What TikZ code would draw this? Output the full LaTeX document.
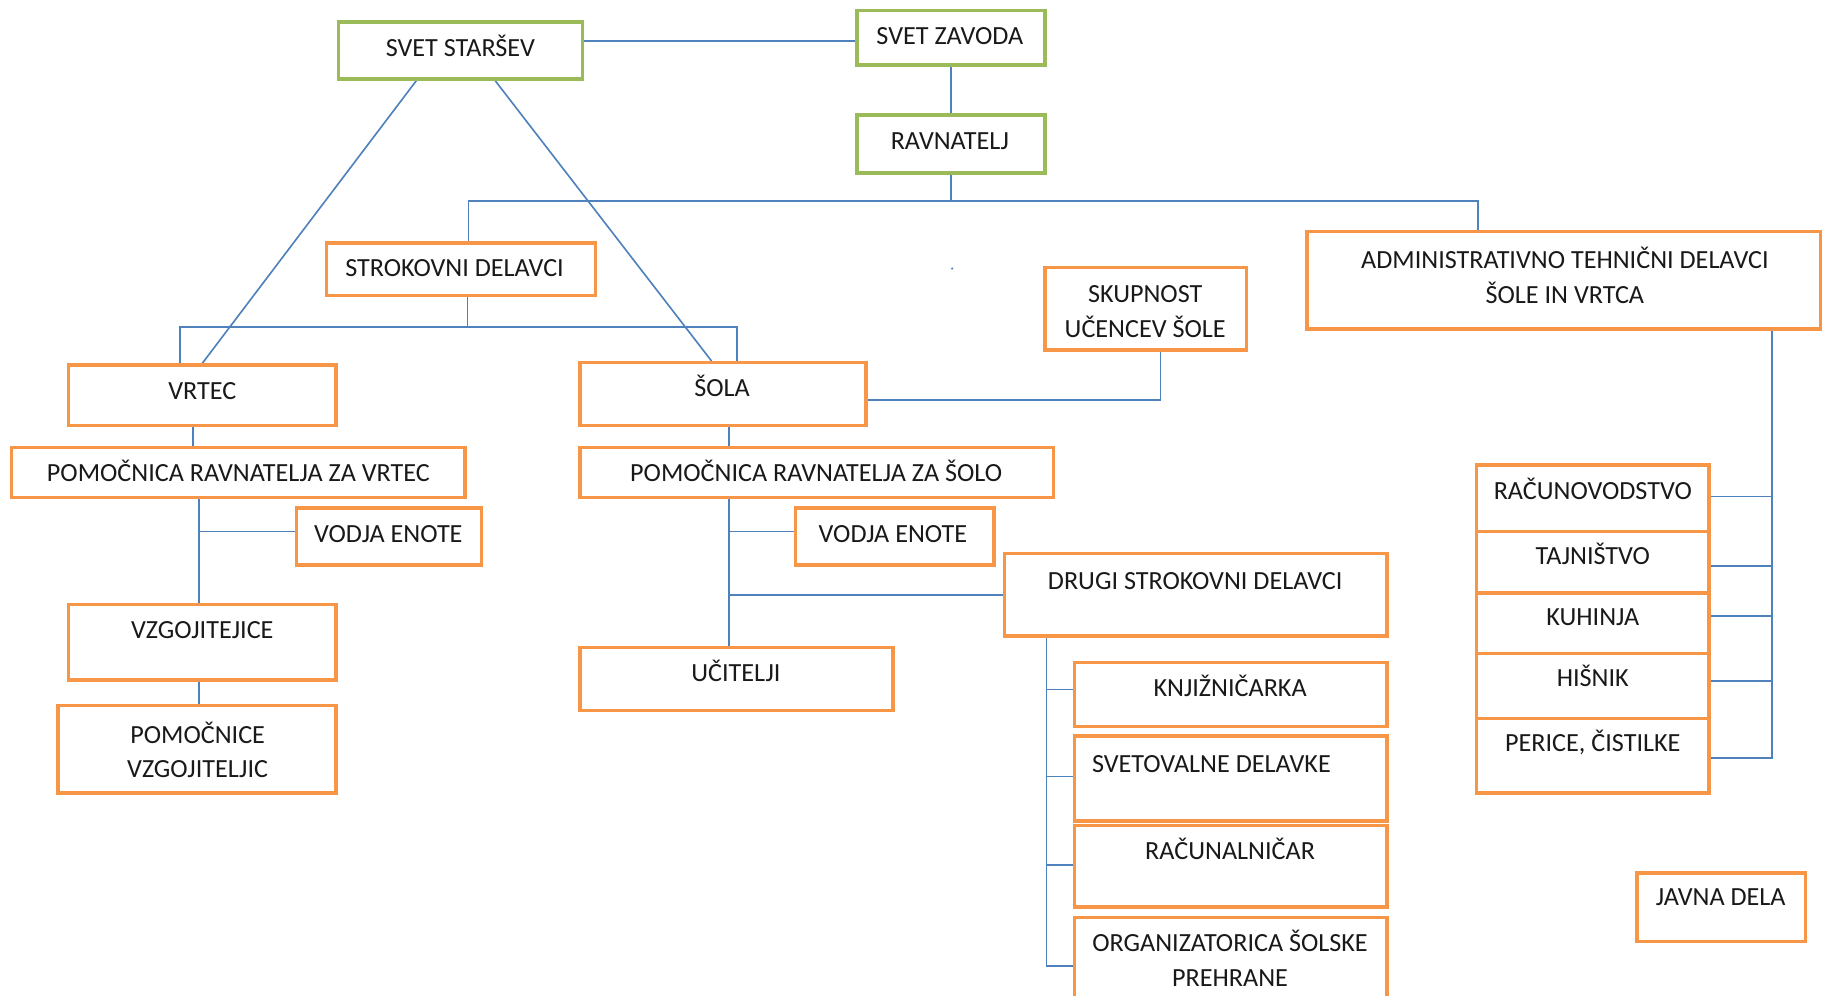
\documentclass[tikz,border=0pt]{standalone}
\usepackage{fontspec}
\setmainfont{Carlito}
\usetikzlibrary{calc}
\pgfdeclarelayer{bg}
\pgfsetlayers{bg,main}
\definecolor{orng}{HTML}{F79646}
\definecolor{grn}{HTML}{9BBB59}
\definecolor{blu}{HTML}{4F81BD}
\tikzset{
 obox/.style={draw=orng, line width=3pt, fill=white, inner sep=0pt},
 gbox/.style={draw=grn, line width=3pt, fill=white, inner sep=0pt},
 conn/.style={draw=blu, line width=1.4pt},
 lbl/.style={font=\fontsize{22.5}{30}\selectfont, text=black!90, inner sep=0pt, text height=14.4pt, text depth=0pt},
 lbltwo/.style={font=\fontsize{22.5}{30}\selectfont, text=black!90, inner sep=0pt, align=center},
}
\newcommand\mkbx[6]{\node[#1, minimum width={#5-#3}, minimum height={#6-#4}] (#2) at ({(#3+#5)/2},{(#4+#6)/2}) {};}
\begin{document}
\begin{tikzpicture}[x=1pt,y=-1pt]
\useasboundingbox (0,0) rectangle (1568,856);
% boxes
\mkbx{gbox}{svs}{291}{19}{501}{68}
\mkbx{gbox}{svz}{737}{9}{899}{56}
\mkbx{gbox}{rav}{737}{99}{899}{149}
\mkbx{obox}{strok}{281}{209}{512}{254}
\mkbx{obox}{skup}{899}{230}{1072}{301}
\mkbx{obox}{adm}{1124}{199}{1566}{283}
\mkbx{obox}{vrtec}{59}{314}{289}{366}
\mkbx{obox}{sola}{499}{312}{745}{366}
\mkbx{obox}{pomv}{10}{385}{400}{428}
\mkbx{obox}{poms}{499}{385}{906}{428}
\mkbx{obox}{vodl}{255}{437}{414}{486}
\mkbx{obox}{vodr}{684}{437}{855}{486}
\mkbx{obox}{vzg}{59}{520}{289}{585}
\mkbx{obox}{pomvz}{50}{607}{289}{682}
\mkbx{obox}{uci}{499}{557}{768}{611}
\mkbx{obox}{drugi}{864}{476}{1193}{547}
\mkbx{obox}{knj}{924}{570}{1193}{625}
\mkbx{obox}{svet}{924}{633}{1193}{706}
\mkbx{obox}{racu}{924}{710}{1193}{780}
\mkbx{obox}{org}{924}{789}{1193}{880}
\mkbx{obox}{racn}{1270}{400}{1470}{457}
\mkbx{obox}{taj}{1270}{457}{1470}{510}
\mkbx{obox}{kuh}{1270}{510}{1470}{562}
\mkbx{obox}{his}{1270}{562}{1470}{618}
\mkbx{obox}{per}{1270}{618}{1470}{682}
\mkbx{obox}{javna}{1408}{751}{1553}{810}
% texts
\node[lbl] (svs-t) at (396,41) {SVET STARŠEV};
\node[lbl] (svz-t) at (817,31) {SVET ZAVODA};
\node[lbl] (rav-t) at (817,121) {RAVNATELJ};
\node[lbl] (strok-t) at (391,231) {STROKOVNI DELAVCI};
\node[lbltwo] (skup-t) at (985,268) {SKUPNOST\\UČENCEV ŠOLE};
\node[lbltwo] (adm-t) at (1346,237) {ADMINISTRATIVNO TEHNIČNI DELAVCI\\ŠOLE IN VRTCA};
\node[lbl] (vrtec-t) at (174,336) {VRTEC};
\node[lbl] (sola-t) at (621,334) {ŠOLA};
\node[lbl] (pomv-t) at (205,407) {POMOČNICA RAVNATELJA ZA VRTEC};
\node[lbl] (poms-t) at (702,407) {POMOČNICA RAVNATELJA ZA ŠOLO};
\node[lbl] (vodl-t) at (334,459) {VODJA ENOTE};
\node[lbl] (vodr-t) at (768,459) {VODJA ENOTE};
\node[lbl] (vzg-t) at (174,542) {VZGOJITEJICE};
\node[lbltwo] (pomvz-t) at (170,645) {POMOČNICE\\VZGOJITELJIC};
\node[lbl] (uci-t) at (633,579) {UČITELJI};
\node[lbl] (drugi-t) at (1028,500) {DRUGI STROKOVNI DELAVCI};
\node[lbl] (knj-t) at (1058,592) {KNJIŽNIČARKA};
\node[lbl] (svet-t) at (1042,657) {SVETOVALNE DELAVKE};
\node[lbl] (racu-t) at (1058,732) {RAČUNALNIČAR};
\node[lbltwo] (org-t) at (1058,824) {ORGANIZATORICA ŠOLSKE\\PREHRANE};
\node[lbl] (racn-t) at (1370,422) {RAČUNOVODSTVO};
\node[lbl] (taj-t) at (1370,478) {TAJNIŠTVO};
\node[lbl] (kuh-t) at (1370,531) {KUHINJA};
\node[lbl] (his-t) at (1370,583) {HIŠNIK};
\node[lbl] (per-t) at (1370,639) {PERICE, ČISTILKE};
\node[lbl] (javna-t) at (1480,772) {JAVNA DELA};
% connectors
\begin{pgfonlayer}{bg}
\fill[white] (0,0) rectangle (1568,856);
\coordinate (j0) at (501,35);
\draw[conn] (svs.east |- j0) -- (svz.west |- j0);
\draw[conn] (svz.south) -- (rav.north);
\coordinate (j1) at (403,173);
\coordinate (j2) at (1271,173);
\draw[conn] (rav.south) -- (rav.south |- j1);
\draw[conn] (strok.north -| j1) -- (j1) -- (j2) -- (adm.north -| j2);
\draw[conn] ([xshift=-38pt]svs.south) -- (vrtec.north);
\draw[conn] ([xshift=30pt]svs.south) -- ([xshift=-10pt]sola.north);
\coordinate (j3) at (402,281);
\coordinate (j4) at (155,281);
\coordinate (j5) at (634,281);
\draw[conn] (strok.south -| j3) -- (j3);
\draw[conn] (vrtec.north -| j4) -- (j4) -- (j5) -- (sola.north -| j5);
\coordinate (j6) at (998,344);
\draw[conn] (sola.east |- j6) -- (j6) -- (skup.south -| j6);
\coordinate (j7) at (166,375);
\draw[conn] (vrtec.south -| j7) -- (pomv.north -| j7);
\coordinate (j8) at (171,457);
\draw[conn] (pomv.south -| j8) -- (vzg.north -| j8);
\draw[conn] (j8) -- (vodl.west |- j8);
\draw[conn] (vzg.south -| j8) -- (pomvz.north -| j8);
\coordinate (j9) at (627,457);
\coordinate (j10) at (627,512);
\draw[conn] (sola.south -| j9) -- (poms.north -| j9);
\draw[conn] (poms.south -| j9) -- (uci.north -| j9);
\draw[conn] (j9) -- (vodr.west |- j9);
\draw[conn] (j10) -- (drugi.west |- j10);
\coordinate (k0) at (900,547);
\coordinate (k1) at (900,593);
\coordinate (k2) at (900,668);
\coordinate (k3) at (900,744);
\coordinate (k4) at (900,831);
\draw[conn] (drugi.south -| k0) -- (k4) -- (org.west |- k4);
\draw[conn] (k1) -- (knj.west |- k1);
\draw[conn] (k2) -- (svet.west |- k2);
\draw[conn] (k3) -- (racu.west |- k3);
\coordinate (m0) at (1524,283);
\coordinate (m1) at (1524,427);
\coordinate (m2) at (1524,487);
\coordinate (m3) at (1524,530);
\coordinate (m4) at (1524,586);
\coordinate (m5) at (1524,652);
\draw[conn] (adm.south -| m0) -- (m5) -- (per.east |- m5);
\draw[conn] (m1) -- (racn.east |- m1);
\draw[conn] (m2) -- (taj.east |- m2);
\draw[conn] (m3) -- (kuh.east |- m3);
\draw[conn] (m4) -- (his.east |- m4);
\fill[blu] (819,231) circle (1pt);
\end{pgfonlayer}
\end{tikzpicture}
\end{document}
